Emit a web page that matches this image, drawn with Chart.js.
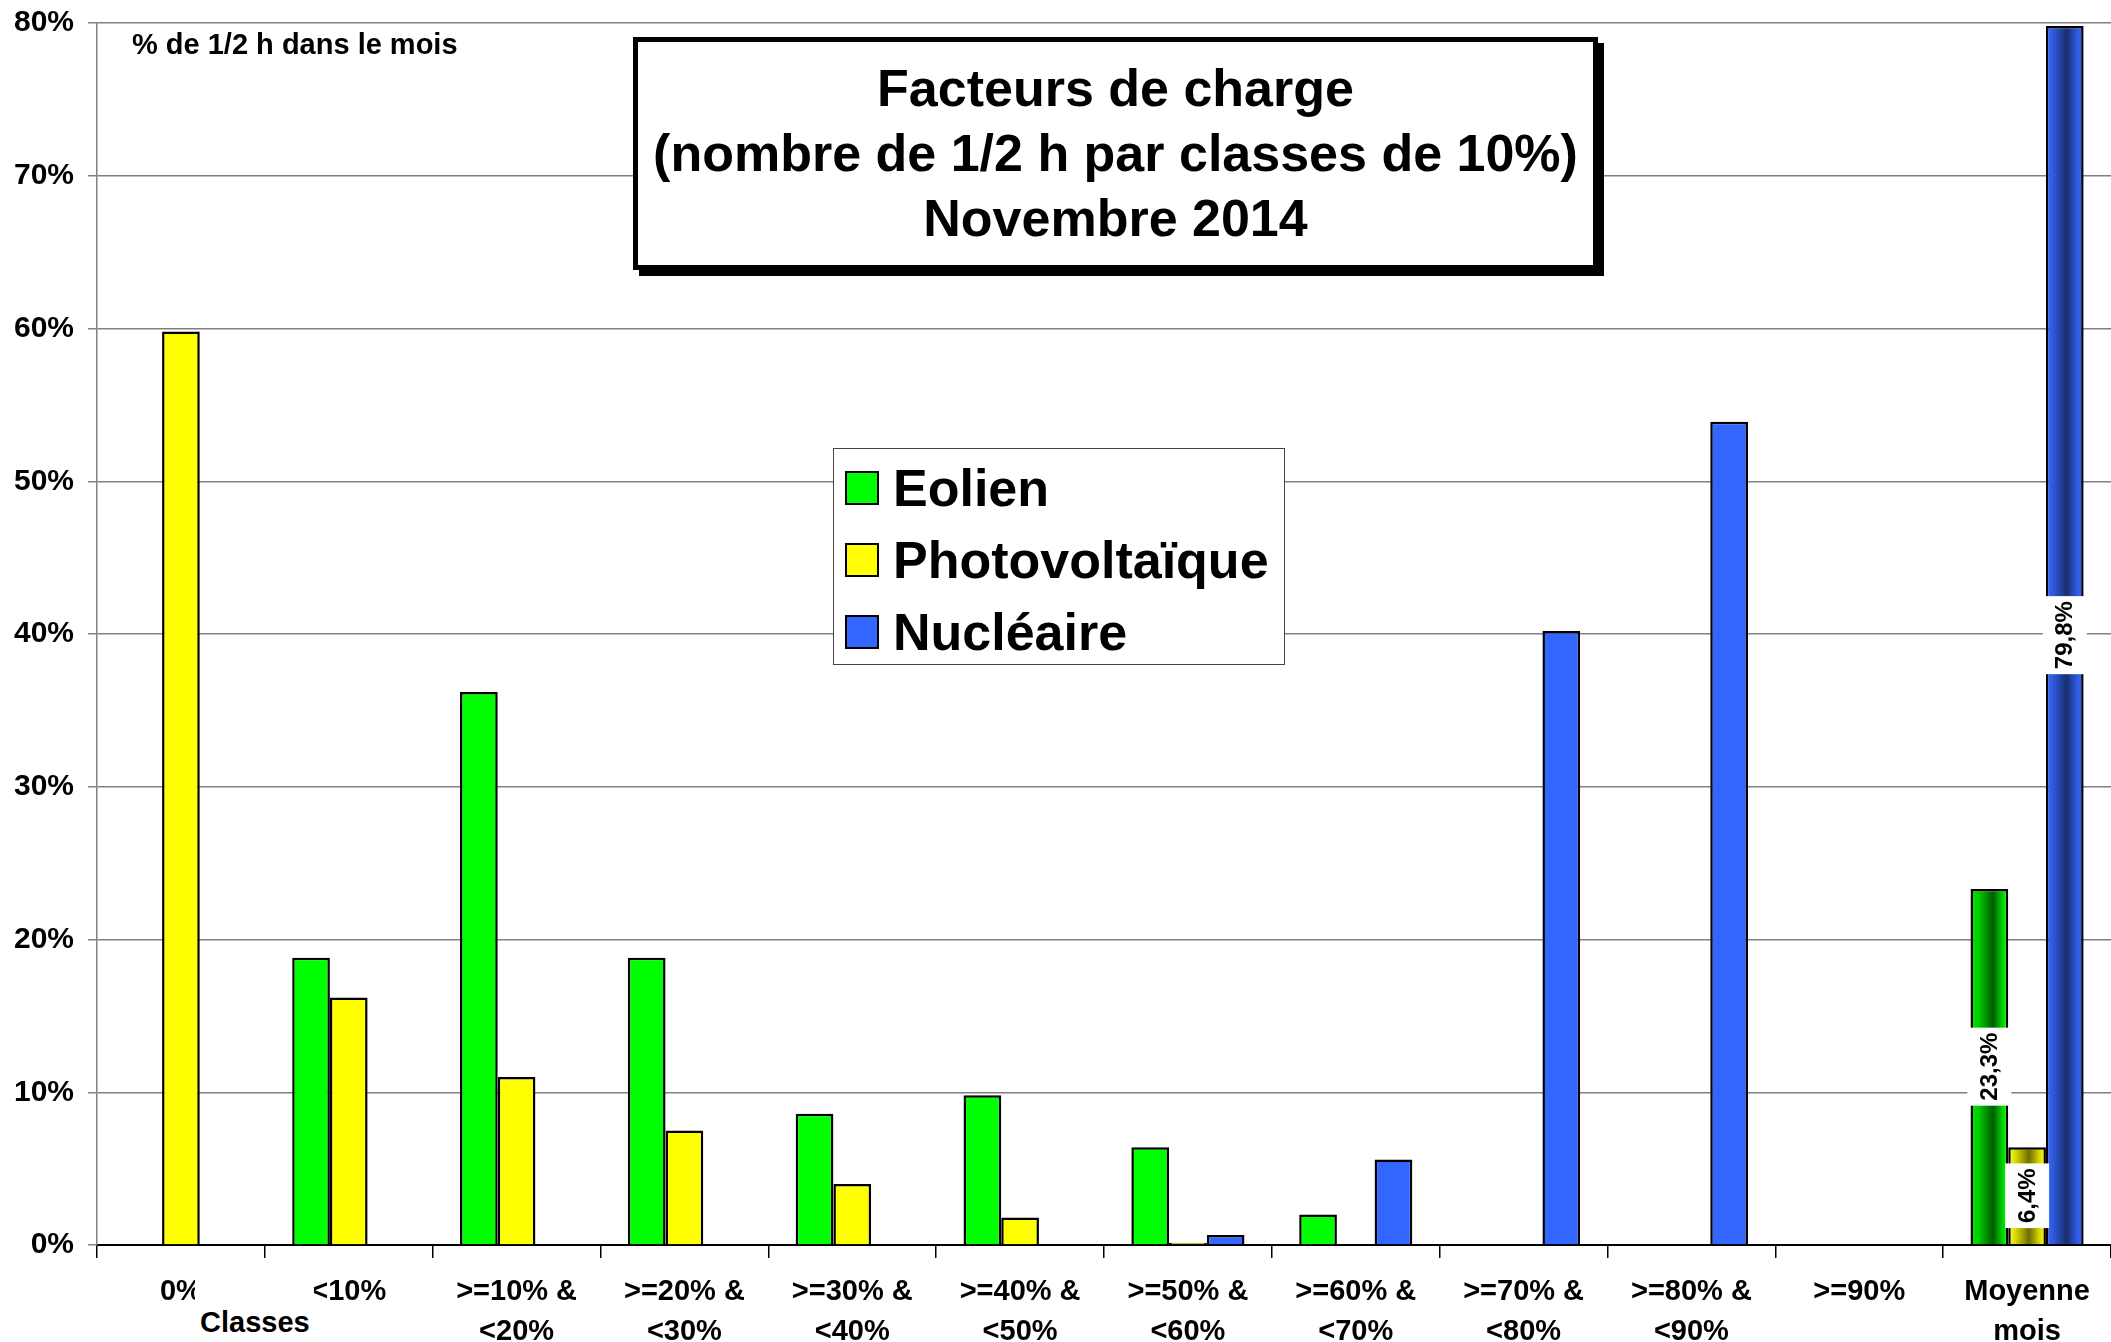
<!DOCTYPE html>
<html>
<head>
<meta charset="utf-8">
<script src="https://cdn.jsdelivr.net/npm/chart.js@4/dist/chart.umd.min.js"></script>
<style>
    body { margin: 0; background: #fff; }
    #wrap { position: relative; width: 2111px; height: 1342px; overflow: hidden; font-family: "Liberation Sans", Arial, sans-serif; font-weight: bold; color: #000; }
    #myChart { position: absolute; left: 0; top: 0; }
    #titleBox { position: absolute; left: 633px; top: 37px; width: 965px; height: 233px; border: 5px solid #000; box-shadow: 6px 6px 0 #000; background: #fff; text-align: center; font-size: 52px; line-height: 65px; padding-top: 14px; box-sizing: border-box; }
    #unitNote { position: absolute; left: 132px; top: 27px; font-size: 29px; line-height: 34px; white-space: nowrap; }
    #axisName { position: absolute; left: 195px; top: 1280px; font-size: 29px; line-height: 36px; padding: 24px 4px 0 5px; background: #fff; }
    #legendBox { position: absolute; left: 833px; top: 448px; width: 452px; height: 217px; border: 1.5px solid #444; background: #fff; box-sizing: border-box; }
    .legItem { position: absolute; left: 11px; height: 60px; font-size: 52px; line-height: 60px; white-space: nowrap; }
    .legItem span.sq { position: absolute; left: 0; top: 13px; width: 30px; height: 30px; border: 2px solid #000; }
    .legItem span.tx { position: absolute; left: 48px; top: 0; }
</style>
</head>
<body>
<div id="wrap">
    <canvas id="myChart" width="2111" height="1342"></canvas>
    <div id="unitNote">% de 1/2 h dans le mois</div>
    <div id="titleBox">Facteurs de charge<br>(nombre de 1/2 h par classes de 10%)<br>Novembre 2014</div>
    <div id="legendBox"></div>
    <div id="axisName">Classes</div>
</div>
<script>
const categories = [['0%'], ['<10%'], ['>=10% &', '<20%'], ['>=20% &', '<30%'], ['>=30% &', '<40%'], ['>=40% &', '<50%'],
    ['>=50% &', '<60%'], ['>=60% &', '<70%'], ['>=70% &', '<80%'], ['>=80% &', '<90%'], ['>=90%'], ['Moyenne', 'mois']];
const eolien = [0, 18.8, 36.2, 18.8, 8.6, 9.8, 6.4, 2.0, 0, 0, 0, 23.3];
const photovoltaique = [59.8, 16.2, 11.0, 7.5, 4.0, 1.8, 0.15, 0, 0, 0, 0, 6.4];
const nucleaire = [0, 0, 0, 0, 0, 0, 0.65, 5.6, 40.2, 53.9, 0, 79.8];
const seriesNames = ['Eolien', 'Photovoltaïque', 'Nucléaire'];
const seriesColors = ['#00ff00', '#ffff00', '#3366ff'];
// horizontal shading used on the "Moyenne mois" bars
const shadeStops = [
    [[0, '#00e600'], [0.2, '#00d000'], [0.6, '#005c00'], [0.85, '#00d400'], [1, '#00ff00']],
    [[0, '#ffff40'], [0.2, '#d8d800'], [0.55, '#6e6e00'], [0.85, '#e0e000'], [1, '#ffff00']],
    [[0, '#3366ff'], [0.15, '#2f5ee8'], [0.55, '#1a2f70'], [0.85, '#2f5ee8'], [1, '#3366ff']]
];
const averageIndex = 11;
const yTicks = [0, 10, 20, 30, 40, 50, 60, 70, 80];

const FONT = '"Liberation Sans", Arial, sans-serif';
Chart.defaults.font.family = FONT;
Chart.defaults.color = '#000';

const shadePlugin = {
    id: 'shade',
    beforeDatasetsDraw(chart) {
        const ctx = chart.ctx;
        chart.data.datasets.forEach((ds, i) => {
            const el = chart.getDatasetMeta(i).data[averageIndex];
            if (!el || !ds.data[averageIndex]) return;
            const g = ctx.createLinearGradient(el.x - el.width / 2, 0, el.x + el.width / 2, 0);
            shadeStops[i].forEach(s => g.addColorStop(s[0], s[1]));
            el.options = Object.assign({}, el.options, { backgroundColor: g });
        });
    }
};

const avgLabelPlugin = {
    id: 'avgLabels',
    afterDatasetsDraw(chart) {
        const ctx = chart.ctx;
        ctx.save();
        ctx.font = 'bold 24px ' + FONT;
        chart.data.datasets.forEach((ds, i) => {
            const v = ds.data[averageIndex];
            const el = chart.getDatasetMeta(i).data[averageIndex];
            if (!el || !v) return;
            const txt = v.toFixed(1).replace('.', ',') + '%';
            const w = ctx.measureText(txt).width + 10;
            const cy = (el.y + el.base) / 2;
            ctx.fillStyle = '#fff';
            ctx.fillRect(el.x - 22, cy - w / 2, 44, w);
            ctx.translate(el.x, cy);
            ctx.rotate(-Math.PI / 2);
            ctx.fillStyle = '#000';
            ctx.textAlign = 'center';
            ctx.textBaseline = 'middle';
            ctx.fillText(txt, 0, 1);
            ctx.setTransform(1, 0, 0, 1, 0, 0);
        });
        ctx.restore();
    }
};

const ctx = document.getElementById('myChart').getContext('2d');
const chart = new Chart(ctx, {
    type: 'bar',
    data: {
        labels: categories,
        datasets: [eolien, photovoltaique, nucleaire].map((d, i) => ({
            label: seriesNames[i],
            data: d,
            backgroundColor: seriesColors[i],
            borderColor: '#000',
            borderWidth: 2.5,
            borderSkipped: 'bottom',
            categoryPercentage: 0.674,
            barPercentage: 1
        }))
    },
    options: {
        responsive: false,
        animation: false,
        layout: { padding: { top: 23, right: 0, left: 0, bottom: 0 } },
        plugins: {
            legend: { display: false },
            tooltip: { enabled: false }
        },
        scales: {
            x: {
                offset: true,
                grid: { offset: true, drawOnChartArea: false, drawTicks: true, tickLength: 13, color: '#000', lineWidth: 1.5 },
                border: { color: '#000', width: 2 },
                ticks: { font: { size: 29, weight: 'bold', lineHeight: 1.38 }, padding: 14, maxRotation: 0, autoSkip: false },
                afterFit: (s) => { s.height = 97; s.paddingLeft = 0; s.paddingRight = 0; }
            },
            y: {
                min: 0,
                max: 80,
                afterBuildTicks: (s) => { s.ticks = yTicks.map(v => ({ value: v })); },
                grid: { color: '#808080', lineWidth: 1.5, tickLength: 9 },
                border: { color: '#808080', width: 1.5 },
                ticks: { font: { size: 30, weight: 'bold' }, padding: 14, callback: v => v + '%' },
                afterFit: (s) => { s.width = 97; s.paddingTop = 0; s.paddingBottom = 0; }
            }
        }
    },
    plugins: [shadePlugin, avgLabelPlugin]
});

// legend built from the chart datasets
const legendBox = document.getElementById('legendBox');
legendBox.innerHTML = chart.data.datasets.map((ds, i) =>
    `<div class="legItem" style="top:${9 + i * 72}px"><span class="sq" style="background:${ds.backgroundColor}"></span><span class="tx">${ds.label}</span></div>`
).join('');
</script>
</body>
</html>
